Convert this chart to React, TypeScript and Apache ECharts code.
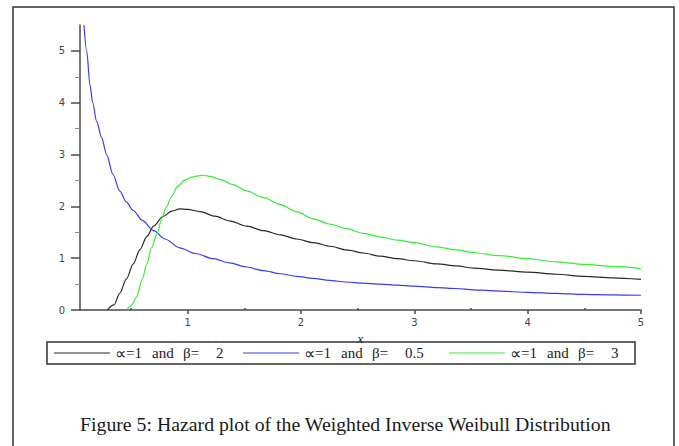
import React, { useEffect, useRef } from "react";
import * as echarts from "echarts";

const captionText = "Figure 5: Hazard plot of the Weighted Inverse Weibull Distribution";
const seriesNames = ["∝=1 and β=2", "∝=1 and β=0.5", "∝=1 and β=3"];
const betaLabels = ["2", "0.5", "3"];
const seriesColors = ["#2a2a2a", "#3a3aff", "#33ee33"];

const xTickValues = [1, 2, 3, 4, 5];
const xMinorTickValues = [0.5, 1.5, 2.5, 3.5, 4.5];
const yTickValues = [0, 1, 2, 3, 4, 5];
const yMinorTickValues = [0.5, 1.5, 2.5, 3.5, 4.5];

// alpha=1, beta=2 (black)
const xBeta2 = [0.29, 0.35, 0.4, 0.46, 0.52, 0.58, 0.64, 0.7, 0.78, 0.86, 0.93, 1.0, 1.11, 1.24, 1.37, 1.52, 1.67, 1.82, 1.96, 2.11, 2.26, 2.4, 2.55, 2.7, 2.85, 3.0, 3.2, 3.37, 3.52, 3.75, 4.0, 4.25, 4.5, 4.75, 5.0];
const yBeta2 = [0, 0.1, 0.32, 0.6, 0.89, 1.17, 1.42, 1.62, 1.8, 1.91, 1.95, 1.94, 1.9, 1.81, 1.72, 1.62, 1.53, 1.45, 1.37, 1.3, 1.23, 1.16, 1.1, 1.04, 0.99, 0.95, 0.89, 0.85, 0.81, 0.77, 0.73, 0.69, 0.65, 0.62, 0.59];

// alpha=1, beta=0.5 (blue)
const xBeta05 = [0.085, 0.109, 0.138, 0.162, 0.197, 0.24, 0.285, 0.34, 0.4, 0.46, 0.52, 0.6, 0.7, 0.8, 0.93, 1.07, 1.226, 1.37, 1.52, 1.67, 1.815, 1.96, 2.11, 2.25, 2.4, 2.55, 2.7, 2.85, 3.0, 3.2, 3.37, 3.52, 3.75, 4.0, 4.25, 4.5, 4.75, 5.0];
const yBeta05 = [5.5, 5.0, 4.34, 4.0, 3.64, 3.33, 3.0, 2.62, 2.3, 2.08, 1.92, 1.73, 1.53, 1.37, 1.2, 1.09, 0.99, 0.91, 0.83, 0.76, 0.7, 0.65, 0.61, 0.57, 0.54, 0.52, 0.5, 0.48, 0.46, 0.43, 0.415, 0.39, 0.365, 0.34, 0.32, 0.3, 0.29, 0.285];

// alpha=1, beta=3 (green)
const xBeta3 = [0.46, 0.5, 0.55, 0.6, 0.64, 0.68, 0.73, 0.77, 0.81, 0.86, 0.91, 0.97, 1.03, 1.09, 1.14, 1.2, 1.285, 1.4, 1.52, 1.67, 1.815, 1.96, 2.11, 2.25, 2.4, 2.55, 2.7, 2.85, 3.0, 3.2, 3.37, 3.52, 3.75, 4.0, 4.25, 4.5, 4.75, 5.0];
const yBeta3 = [0, 0.08, 0.25, 0.6, 0.89, 1.2, 1.47, 1.75, 1.98, 2.2, 2.38, 2.5, 2.56, 2.59, 2.6, 2.58, 2.52, 2.42, 2.3, 2.17, 2.04, 1.9, 1.76, 1.66, 1.57, 1.48, 1.41, 1.35, 1.3, 1.22, 1.16, 1.11, 1.05, 0.99, 0.93, 0.88, 0.84, 0.8];

const pairs = (xs: number[], ys: number[]) => xs.map((x, i) => [x, ys[i]]);

const axisColor = "#4a4a4a";
const tickFont = { fontSize: 10, color: "#444", fontFamily: "DejaVu Sans" };
const serif = "Liberation Serif";

export default function App() {
  const ref = useRef<HTMLDivElement>(null);
  useEffect(() => {
    if (!ref.current) return;
    const chart = echarts.init(ref.current, null, { renderer: "svg" });
    const seriesData = [pairs(xBeta2, yBeta2), pairs(xBeta05, yBeta05), pairs(xBeta3, yBeta3)];
    const segStyle = { fontFamily: serif, fontSize: 15, color: "#222", lineHeight: 15 };
    chart.setOption({
      animation: false,
      backgroundColor: "#fff",
      grid: { left: 80, right: 38, top: 25, bottom: 136, containLabel: false },
      title: {
        text: captionText,
        left: 75,
        top: 409,
        textStyle: { fontFamily: serif, fontSize: 19.8, fontWeight: "normal", color: "#1a1a1a" },
      },
      legend: {
        data: seriesNames,
        left: 47,
        top: 342,
        orient: "horizontal",
        icon: "rect",
        borderColor: "#333",
        borderWidth: 1.5,
        padding: [3, 8, 3, 7],
        itemWidth: 56,
        itemHeight: 1,
        itemGap: 11,
        formatter: (name: string) => {
          const i = seriesNames.indexOf(name);
          const v = betaLabels[i];
          return `{p|∝}{a|=1}{b|and}{c|β=}{${i === 1 ? "w" : "n"}|${v}}`;
        },
        textStyle: {
          ...segStyle,
          rich: {
            p: { ...segStyle, fontFamily: "DejaVu Sans", fontSize: 16, width: 11 },
            a: { ...segStyle, width: 26 },
            b: { ...segStyle, width: 31 },
            c: { ...segStyle, width: 33 },
            n: { ...segStyle, width: 16 },
            w: { ...segStyle, width: 33 },
          },
        },
      },
      xAxis: [
        {
          type: "value",
          min: 0.05,
          max: 5,
          position: "bottom",
          name: "x",
          nameLocation: "middle",
          nameGap: 18,
          nameTextStyle: { fontFamily: serif, fontStyle: "italic", fontSize: 13, lineHeight: 11, color: "#222" },
          axisLine: { show: true, onZero: false, lineStyle: { color: axisColor, width: 1.5 } },
          axisTick: { show: true, customValues: xTickValues, length: 4, lineStyle: { color: axisColor, width: 1.5 } },
          axisLabel: { show: true, customValues: xTickValues, margin: 7, ...tickFont },
          splitLine: { show: false },
        },
        {
          type: "value",
          min: 0.05,
          max: 5,
          position: "bottom",
          axisLine: { show: false },
          axisTick: { show: true, inside: true, customValues: xMinorTickValues, length: 2, lineStyle: { color: axisColor, width: 1.5 } },
          axisLabel: { show: false },
          splitLine: { show: false },
        },
      ],
      yAxis: [
        {
          type: "value",
          min: 0,
          max: 5.5,
          position: "left",
          axisLine: { show: true, onZero: false, lineStyle: { color: axisColor, width: 1.5 } },
          axisTick: { show: true, customValues: yTickValues, length: 9, lineStyle: { color: axisColor, width: 1.5 } },
          axisLabel: { show: true, customValues: yTickValues, margin: 15, ...tickFont },
          splitLine: { show: false },
        },
        {
          type: "value",
          min: 0,
          max: 5.5,
          position: "left",
          axisLine: { show: false },
          axisTick: { show: true, customValues: yMinorTickValues, length: 5, lineStyle: { color: "#888", width: 1 } },
          axisLabel: { show: false },
          splitLine: { show: false },
        },
      ],
      graphic: [
        {
          type: "rect",
          shape: { x: 13, y: 7, width: 661, height: 460 },
          style: { fill: "none", stroke: "#333", lineWidth: 1.5 },
          silent: true,
        },
      ],
      series: seriesNames.map((name, i) => ({
        name,
        type: "line",
        xAxisIndex: 0,
        yAxisIndex: 0,
        data: seriesData[i],
        smooth: 0.3,
        smoothMonotone: "x",
        symbol: "none",
        showSymbol: false,
        clip: true,
        lineStyle: { color: seriesColors[i], width: 1.2 },
        itemStyle: { color: seriesColors[i] },
      })),
    });
    return () => chart.dispose();
  }, []);
  return <div ref={ref} style={{ position: "fixed", left: 0, top: 0, width: 679, height: 446 }} />;
}
